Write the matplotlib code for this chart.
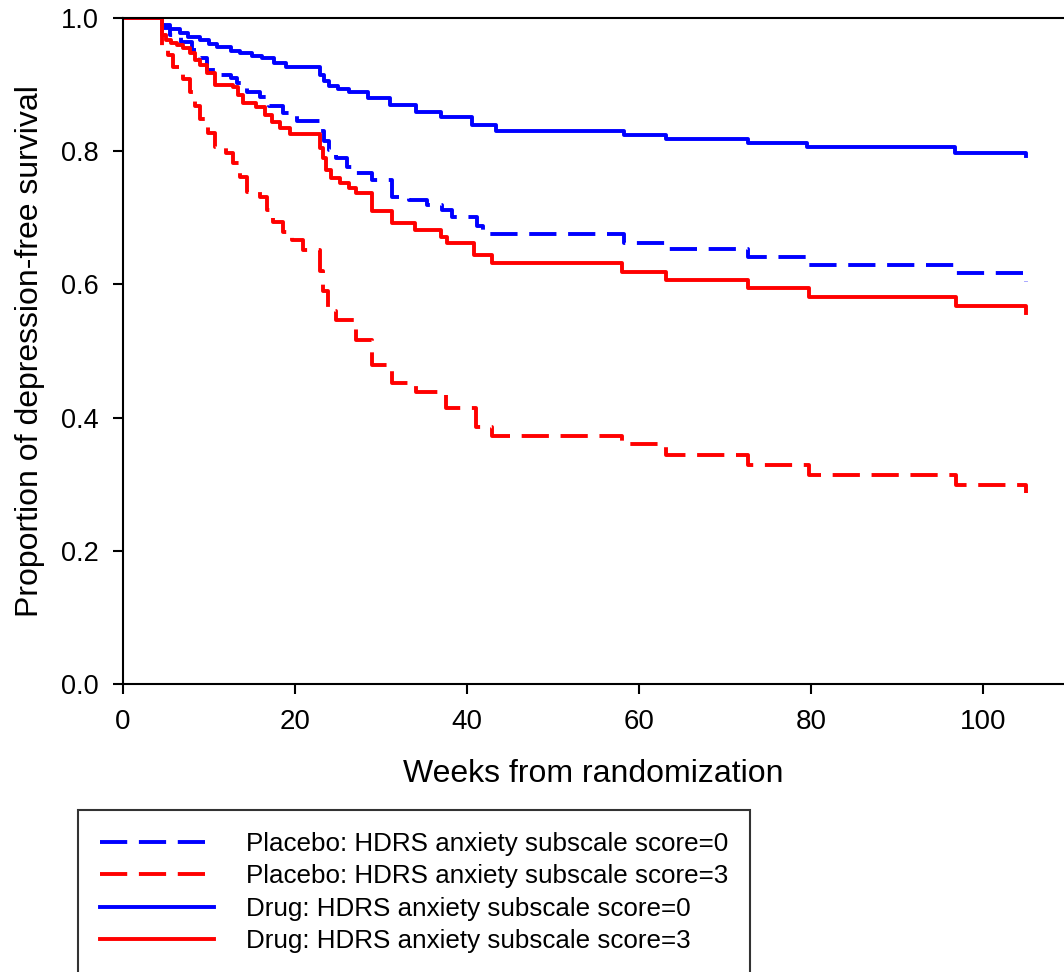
import matplotlib
matplotlib.use("Agg")
import matplotlib.pyplot as plt

plt.rcParams["font.family"] = ["Liberation Sans", "DejaVu Sans"]

# Kaplan-Meier style step curves (weeks, proportion depression-free)
placebo0_weeks = [0, 4.5, 5.5, 6.8, 8.0, 8.9, 9.8, 11.3, 12.5, 13.2, 14.4, 15.9, 17.0,
                  18.6, 20.2, 22.9, 23.4, 24.0, 24.8, 26.0, 27.1, 29.0, 31.3, 33.3,
                  35.3, 37.1, 38.3, 41.2, 41.8, 58.2, 63.1, 72.7, 79.5, 96.7, 105.0]
placebo0_surv = [1.0, 0.985, 0.975, 0.964, 0.952, 0.940, 0.922, 0.914, 0.910, 0.902,
                 0.889, 0.881, 0.868, 0.858, 0.845, 0.830, 0.815, 0.802, 0.790, 0.776,
                 0.767, 0.757, 0.731, 0.727, 0.719, 0.712, 0.701, 0.688, 0.675, 0.662,
                 0.653, 0.641, 0.629, 0.617, 0.604]

placebo3_weeks = [0, 4.5, 5.2, 5.8, 7.0, 7.8, 8.4, 8.9, 9.9, 10.7, 12.0, 12.8, 13.6,
                  14.4, 15.9, 16.7, 17.4, 18.6, 19.7, 20.9, 22.9, 23.3, 23.8, 24.8,
                  27.1, 29.0, 31.3, 34.1, 37.6, 41.0, 42.9, 58.0, 63.1, 72.7, 79.7,
                  96.9, 105.0]
placebo3_surv = [1.0, 0.955, 0.944, 0.926, 0.908, 0.889, 0.868, 0.848, 0.828, 0.806,
                 0.798, 0.782, 0.761, 0.739, 0.731, 0.712, 0.694, 0.679, 0.667, 0.652,
                 0.620, 0.590, 0.560, 0.547, 0.517, 0.479, 0.452, 0.438, 0.414, 0.386,
                 0.372, 0.360, 0.344, 0.329, 0.314, 0.299, 0.287]

drug0_weeks = [0, 4.5, 5.5, 6.6, 7.5, 8.9, 10.0, 10.9, 12.5, 13.6, 15.0, 16.2, 17.5,
               19.0, 22.9, 23.4, 24.0, 25.0, 26.3, 28.5, 31.0, 34.1, 37.0, 40.6, 43.4,
               58.2, 63.1, 72.7, 79.5, 96.7, 105.0]
drug0_surv = [1.0, 0.989, 0.983, 0.977, 0.972, 0.967, 0.961, 0.956, 0.951, 0.947, 0.943,
              0.940, 0.933, 0.926, 0.915, 0.905, 0.898, 0.894, 0.889, 0.880, 0.869,
              0.859, 0.851, 0.839, 0.830, 0.824, 0.818, 0.813, 0.806, 0.798, 0.793]

drug3_weeks = [0, 4.5, 5.0, 5.6, 6.3, 7.0, 7.8, 8.4, 8.9, 9.8, 10.7, 12.8, 13.4, 13.9,
               15.5, 16.5, 17.3, 18.2, 19.4, 22.9, 23.2, 23.6, 24.2, 25.2, 26.3, 27.1,
               29.0, 31.3, 33.9, 37.0, 37.7, 40.8, 42.9, 58.0, 63.1, 72.7, 79.7, 96.9,
               105.0]
drug3_surv = [1.0, 0.974, 0.967, 0.962, 0.960, 0.955, 0.947, 0.937, 0.929, 0.917, 0.899,
              0.896, 0.884, 0.872, 0.866, 0.854, 0.844, 0.835, 0.826, 0.805, 0.790,
              0.772, 0.760, 0.752, 0.745, 0.737, 0.710, 0.692, 0.682, 0.671, 0.662,
              0.644, 0.632, 0.619, 0.607, 0.595, 0.581, 0.567, 0.557]

labels = [
    "Placebo: HDRS anxiety subscale score=0",
    "Placebo: HDRS anxiety subscale score=3",
    "Drug: HDRS anxiety subscale score=0",
    "Drug: HDRS anxiety subscale score=3",
]

fig = plt.figure(figsize=(10.64, 9.72), dpi=100)
ax = fig.add_axes([123 / 1064, 288 / 972, 941 / 1064, 666 / 972])

lw = 2.8
dash = (0, (7, 3))
ax.step(placebo0_weeks, placebo0_surv, where="post", color="#0000ff", lw=lw,
        linestyle=dash, label=labels[0])
ax.step(placebo3_weeks, placebo3_surv, where="post", color="#ff0000", lw=lw,
        linestyle=dash, label=labels[1])
ax.step(drug0_weeks, drug0_surv, where="post", color="#0000ff", lw=lw,
        label=labels[2])
ax.step(drug3_weeks, drug3_surv, where="post", color="#ff0000", lw=lw,
        label=labels[3])

ax.set_xlim(0, 109.4)
ax.set_ylim(0, 1.0)
ax.set_xticks([0, 20, 40, 60, 80, 100])
ax.set_yticks([0.0, 0.2, 0.4, 0.6, 0.8, 1.0])
ax.set_yticklabels(["0.0", "0.2", "0.4", "0.6", "0.8", "1.0"])

ax.spines["right"].set_visible(False)
for s in ["left", "bottom", "top"]:
    ax.spines[s].set_linewidth(1.5)
ax.tick_params(axis="both", direction="out", length=7.2, width=1.5)
ax.tick_params(axis="x", labelsize=20, pad=11)
ax.tick_params(axis="y", labelsize=19.5, pad=10)

ax.set_xlabel("Weeks from randomization", fontsize=23)
ax.set_ylabel("Proportion of depression-free survival", fontsize=23)
ax.xaxis.set_label_coords(0.5, -0.112)
ax.yaxis.set_label_coords(-0.083, 0.5)

leg = fig.legend(loc="upper left", bbox_to_anchor=(78 / 1064, 1 - 810 / 972),
                 bbox_transform=fig.transFigure, fontsize=18.7, frameon=True,
                 fancybox=False, borderaxespad=0, borderpad=0.85,
                 handlelength=4.4, handletextpad=1.2, labelspacing=0.32)
leg.get_frame().set_edgecolor("black")
leg.get_frame().set_linewidth(1.5)

fig.savefig("out.png", dpi=100)
